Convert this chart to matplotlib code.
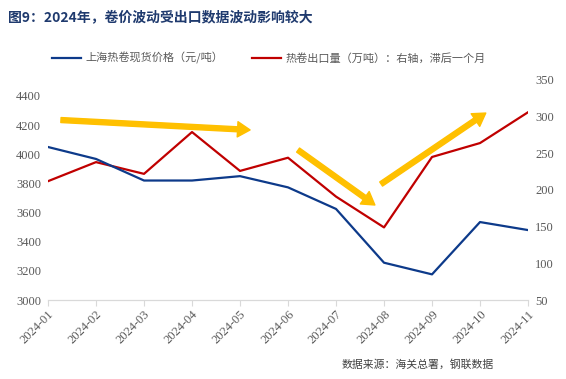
import numpy as np
import matplotlib
matplotlib.use("Agg")
import matplotlib.pyplot as plt

plt.rcParams['font.family'] = ['Liberation Serif', 'Noto Sans CJK SC', 'DejaVu Sans']

months = ["2024-01", "2024-02", "2024-03", "2024-04", "2024-05", "2024-06",
          "2024-07", "2024-08", "2024-09", "2024-10", "2024-11"]
price = [4050, 3968, 3820, 3820, 3850, 3773, 3625, 3256, 3176, 3535, 3480]
export = [212, 238, 222, 279, 226, 244, 191, 149, 245, 264, 306]

left_ticks = [3000, 3200, 3400, 3600, 3800, 4000, 4200, 4400]
right_ticks = [50, 100, 150, 200, 250, 300, 350]

BLUE = "#0D3A8A"
RED = "#C00000"
GOLD = "#FFC000"
GREY = "#595959"
CJK = ['Noto Sans CJK SC', 'DejaVu Sans']

fig = plt.figure(figsize=(5.66, 3.79), dpi=100)
ax = fig.add_axes([0.0848, 0.2084, 0.8481, 0.5806])
ax2 = ax.twinx()

x = np.arange(len(months))
ax.plot(x, price, color=BLUE, lw=1.6, label="上海热卷现货价格（元/吨）", zorder=3)
ax2.plot(x, export, color=RED, lw=1.6, label="热卷出口量（万吨）：右轴，滞后一个月", zorder=3)

ax.set_xlim(0, 10)
ax.set_ylim(3000, 4510)
ax2.set_ylim(50, 350)
ax.set_yticks(left_ticks)
ax2.set_yticks(right_ticks)
ax.set_xticks(x)
ax.set_xticklabels(months, rotation=45, ha="right", rotation_mode="anchor")

for a in (ax, ax2):
    for s in ("top", "left", "right"):
        a.spines[s].set_visible(False)
    a.spines["bottom"].set_color("#D9D9D9")
    a.tick_params(axis="y", length=0, labelsize=9, labelcolor=GREY, pad=5)
ax.tick_params(axis="x", length=4, color="#D9D9D9", labelsize=9, labelcolor=GREY, pad=2)

# trend arrows (in price-axis data coords)
arrows = [((0.27, 4235), (4.21, 4167)),
          ((5.21, 4029), (6.81, 3652)),
          ((6.94, 3796), (9.12, 4283))]
for (x0, y0), (x1, y1) in arrows:
    ax.annotate("", xy=(x1, y1), xytext=(x0, y0),
                arrowprops=dict(facecolor=GOLD, edgecolor=GOLD, width=3.6,
                                headwidth=11, headlength=9, shrink=0),
                zorder=4)

ax.set_zorder(ax2.get_zorder() + 1)
ax.patch.set_visible(False)

fig.text(0.014, 0.955, "图9：2024年，卷价波动受出口数据波动影响较大",
         fontsize=10, fontweight="bold", color="#1F3A6E", family=CJK, va="center")

h1, l1 = ax.get_legend_handles_labels()
h2, l2 = ax2.get_legend_handles_labels()
fig.legend(h1 + h2, l1 + l2, loc="center", bbox_to_anchor=(0.475, 0.847), ncol=2,
           frameon=False, prop={'family': CJK, 'size': 8}, labelcolor=GREY,
           handlelength=2.6, columnspacing=2.6, handletextpad=0.4)

fig.text(0.872, 0.037, "数据来源：海关总署，钢联数据", fontsize=7.8, color="#404040",
         family=CJK, ha="right", va="center")

fig.savefig("out.png", dpi=100)
